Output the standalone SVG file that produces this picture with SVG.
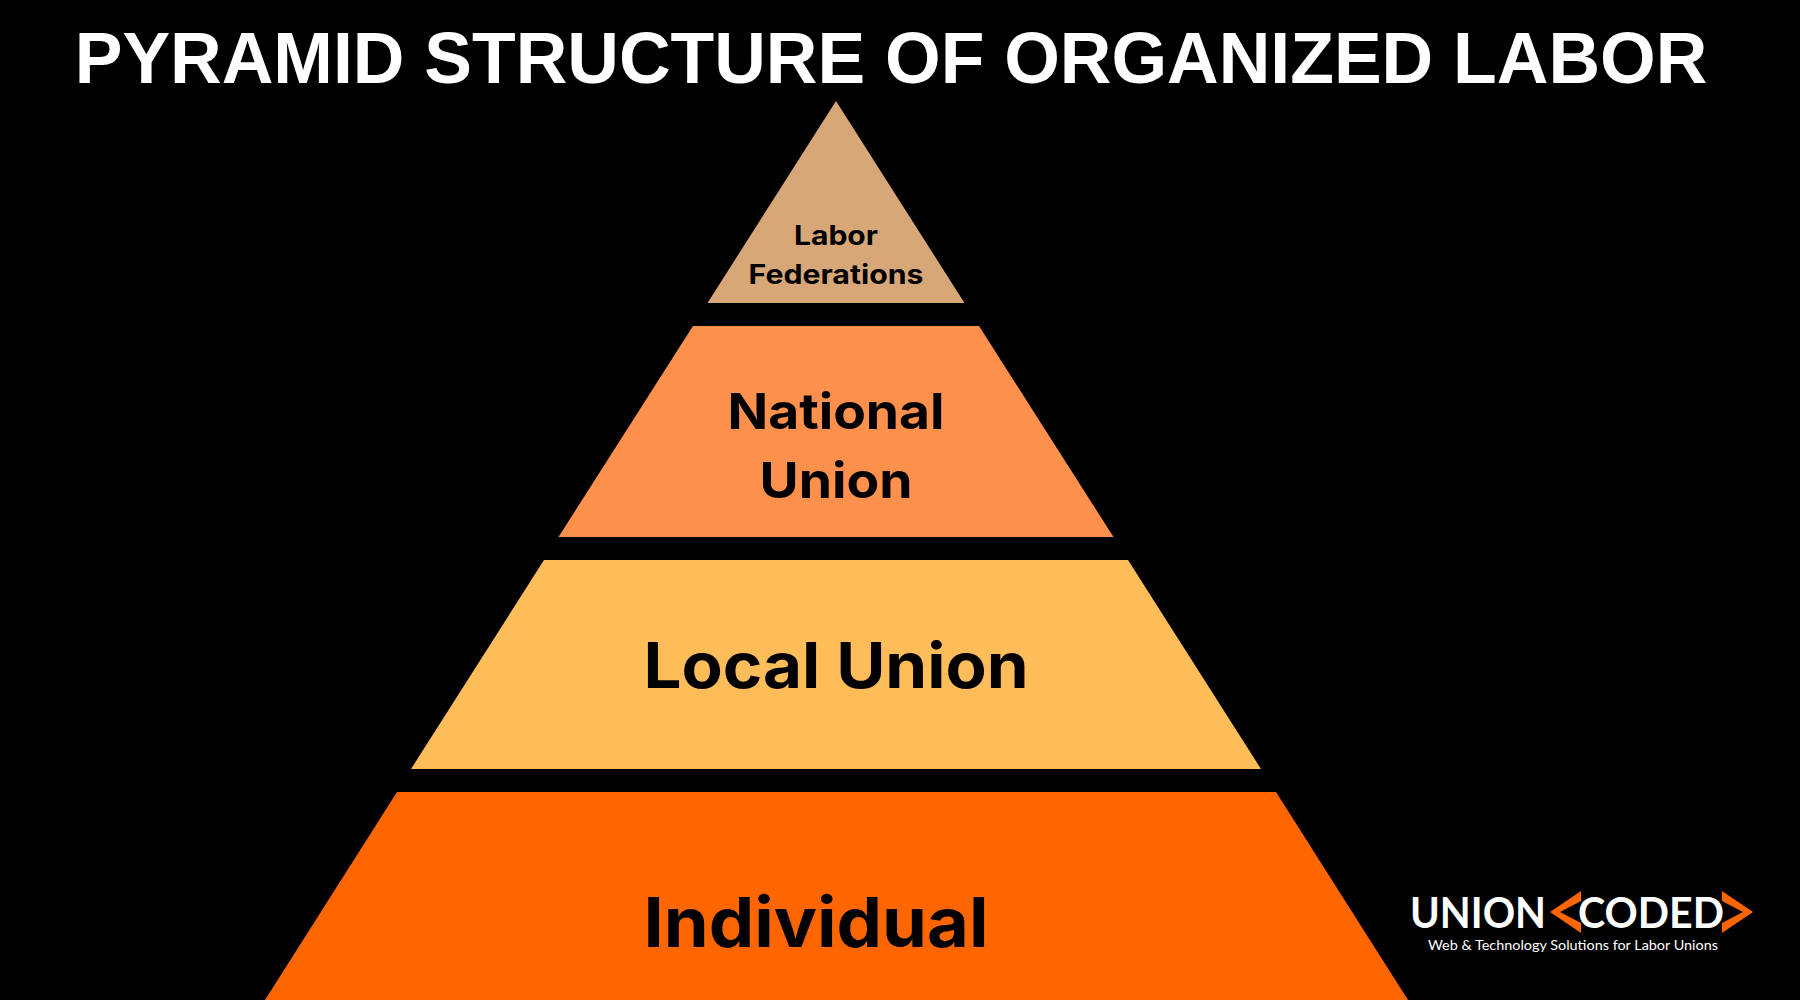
<svg xmlns="http://www.w3.org/2000/svg" width="1800" height="1000" viewBox="0 0 1800 1000">
<style>
.t{font-family:"Liberation Sans",Arial,sans-serif;font-weight:700;fill:#fff;text-anchor:middle}
.l{font-family:Inter,"Open Sans",sans-serif;font-weight:700;fill:#000;text-anchor:middle}
.b{font-family:Lato,"Open Sans",sans-serif;fill:#fff}
</style>
<rect width="1800" height="1000" fill="#000"/>
<text class="t" x="891" y="83" font-size="71.5">PYRAMID STRUCTURE OF ORGANIZED LABOR</text>
<g id="tier-federations">
<polygon points="836,101 964.5,303 707.5,303" fill="#d8a777"/>
<text class="l" x="836" y="245" font-size="27" textLength="84" lengthAdjust="spacingAndGlyphs">Labor</text>
<text class="l" x="836" y="284" font-size="27" textLength="175" lengthAdjust="spacingAndGlyphs">Federations</text>
</g>
<g id="tier-national">
<polygon points="693,326 979,326 1113.5,537 558.5,537" fill="#ff914d"/>
<text class="l" x="836" y="429" font-size="50" textLength="217" lengthAdjust="spacingAndGlyphs">National</text>
<text class="l" x="836" y="498" font-size="50" textLength="153" lengthAdjust="spacingAndGlyphs">Union</text>
</g>
<g id="tier-local">
<polygon points="544,560 1128,560 1261,769 411,769" fill="#ffbd59"/>
<text class="l" x="836" y="688" font-size="63" textLength="385" lengthAdjust="spacingAndGlyphs">Local Union</text>
</g>
<g id="tier-individual">
<polygon points="397,792 1276,792 1408,1000 265,1000" fill="#ff6600"/>
<text class="l" x="816" y="947" font-size="69" textLength="345" lengthAdjust="spacingAndGlyphs">Individual</text>
</g>
<g id="logo">
<text class="b" x="1410" y="928" font-size="42" font-weight="700" textLength="136" lengthAdjust="spacingAndGlyphs">UNION</text>
<text class="b" x="1578" y="928" font-size="42" font-weight="700" textLength="146" lengthAdjust="spacingAndGlyphs">CODED</text>
<polygon points="1581,891 1581,901 1560,912 1581,923 1581,933 1550,912" fill="#ff6600"/>
<polygon points="1722,891 1753,912 1722,933 1722,923 1743,912 1722,901" fill="#ff6600"/>
<text class="b" x="1428" y="949.5" font-size="13.5" font-weight="400" textLength="290" lengthAdjust="spacingAndGlyphs">Web &amp; Technology Solutions for Labor Unions</text>
</g>
</svg>
